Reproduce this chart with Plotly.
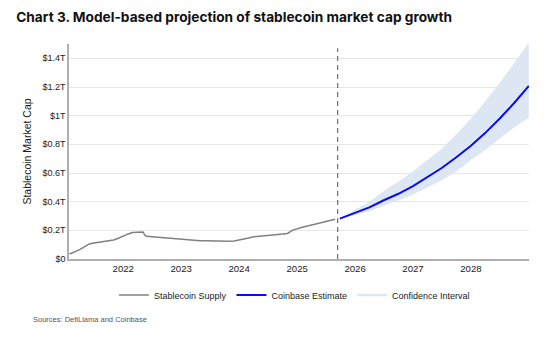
import plotly.graph_objects as go

# Historical stablecoin supply (USD trillions)
hist_dates = ["2021-01-28", "2021-03-01", "2021-04-01", "2021-05-01", "2021-06-01", "2021-07-01",
              "2021-08-01", "2021-09-01", "2021-10-01", "2021-11-01", "2021-12-01", "2022-01-01",
              "2022-02-01", "2022-03-01", "2022-04-01", "2022-05-05", "2022-05-20", "2022-06-01",
              "2022-07-01", "2022-08-01", "2022-09-01", "2022-10-01", "2022-11-01", "2022-12-01",
              "2023-01-01", "2023-02-01", "2023-03-01", "2023-04-01", "2023-05-01", "2023-06-01",
              "2023-07-01", "2023-08-01", "2023-09-01", "2023-10-01", "2023-11-01", "2023-12-01",
              "2024-01-01", "2024-02-01", "2024-03-01", "2024-04-01", "2024-05-01", "2024-06-01",
              "2024-07-01", "2024-08-01", "2024-09-01", "2024-10-01", "2024-11-01", "2024-12-01",
              "2025-01-01", "2025-02-01", "2025-03-01", "2025-04-01", "2025-05-01", "2025-06-01",
              "2025-07-01", "2025-08-01", "2025-08-28"]
hist_values = [0.035, 0.048, 0.065, 0.085, 0.105, 0.112,
               0.117, 0.122, 0.127, 0.133, 0.145, 0.162,
               0.175, 0.185, 0.189, 0.189, 0.162, 0.158,
               0.155, 0.152, 0.150, 0.147, 0.143, 0.138,
               0.135, 0.133, 0.131, 0.129, 0.128, 0.127,
               0.126, 0.124, 0.123, 0.122, 0.123, 0.126,
               0.131, 0.137, 0.146, 0.155, 0.159, 0.162,
               0.165, 0.168, 0.171, 0.174, 0.178, 0.200,
               0.213, 0.222, 0.229, 0.237, 0.244, 0.251,
               0.259, 0.268, 0.277]

# Projection (USD trillions)
proj_dates = ["2025-09-27", "2026-01-01", "2026-04-01", "2026-07-01", "2026-10-01", "2027-01-01",
              "2027-04-01", "2027-07-01", "2027-10-01", "2028-01-01", "2028-04-01", "2028-07-01",
              "2028-10-01", "2028-12-31"]
proj_center = [0.282, 0.320, 0.360, 0.410, 0.455, 0.508,
               0.570, 0.635, 0.710, 0.790, 0.880, 0.980,
               1.090, 1.207]
proj_upper = [0.284, 0.345, 0.400, 0.475, 0.540, 0.613,
              0.690, 0.770, 0.870, 0.980, 1.100, 1.230,
              1.370, 1.510]
proj_lower = [0.280, 0.305, 0.335, 0.375, 0.410, 0.450,
              0.500, 0.550, 0.610, 0.690, 0.760, 0.840,
              0.920, 0.986]

cutoff_date = "2025-09-13"

x_tickvals = ["2022-01-01", "2023-01-01", "2024-01-01", "2025-01-01", "2026-01-01", "2027-01-01", "2028-01-01"]
x_ticktext = ["2022", "2023", "2024", "2025", "2026", "2027", "2028"]
y_tickvals = [0, 0.2, 0.4, 0.6, 0.8, 1.0, 1.2, 1.4]
y_ticktext = ["$0", "$0.2T", "$0.4T", "$0.6T", "$0.8T", "$1T", "$1.2T", "$1.4T"]

BAND = "#dde7f3"
BLUE = "#0a0af0"
GRAY = "#808080"
SANS = "Liberation Sans, Arial, sans-serif"

fig = go.Figure()
fig.add_trace(go.Scatter(x=proj_dates, y=proj_lower, mode="lines", line=dict(width=0, color=BAND),
                         showlegend=False, hoverinfo="skip"))
fig.add_trace(go.Scatter(x=proj_dates, y=proj_upper, mode="lines", line=dict(width=0, color=BAND),
                         fill="tonexty", fillcolor=BAND, showlegend=False, hoverinfo="skip"))
fig.add_trace(go.Scatter(x=hist_dates, y=hist_values, mode="lines", name="Stablecoin Supply",
                         line=dict(color=GRAY, width=1.5)))
fig.add_trace(go.Scatter(x=proj_dates, y=proj_center, mode="lines", name="Coinbase Estimate",
                         line=dict(color=BLUE, width=2)))
fig.add_trace(go.Scatter(x=[None], y=[None], mode="lines", name="Confidence Interval",
                         line=dict(color=BAND, width=2.5)))

fig.add_shape(type="line", xref="x", yref="paper", x0=cutoff_date, x1=cutoff_date, y0=0, y1=0.98,
              line=dict(color="#707070", width=1.2, dash="5px,4px"))

fig.update_layout(
    width=559, height=340,
    margin=dict(l=69, r=30, t=44, b=81),
    paper_bgcolor="white", plot_bgcolor="white",
    font=dict(family=SANS, color="#222222", size=10),
    title=dict(text="<b>Chart 3. Model-based projection of stablecoin market cap growth</b>",
               x=0.029, xanchor="left", y=0.95, yanchor="middle",
               font=dict(family="Inter, Roboto, sans-serif", size=13.7, color="#111111")),
    legend=dict(orientation="h", x=0.49, xanchor="center", y=-0.1, yanchor="top",
                traceorder="normal",
                font=dict(family=SANS, size=9, color="#1a1a1a"), itemwidth=30, tracegroupgap=0),
    showlegend=True,
)
fig.update_xaxes(range=["2021-01-24", "2029-01-01"], tickvals=x_tickvals, ticktext=x_ticktext,
                 showgrid=False, showline=True, linecolor="#b0b0b0", linewidth=1.5,
                 ticks="", tickfont=dict(family=SANS, size=9.6, color="#1a1a1a"), zeroline=False)
fig.update_yaxes(range=[0, 1.5], tickvals=y_tickvals, ticktext=y_ticktext,
                 showgrid=True, gridcolor="#e6e6e6", gridwidth=1,
                 showline=True, linecolor="#b0b0b0", linewidth=1.5, zeroline=False,
                 ticks="", ticklabelstandoff=0, tickfont=dict(family=SANS, size=9, color="#1a1a1a"),
                 title=dict(text="Stablecoin Market Cap", font=dict(family=SANS, size=10.5, color="#1a1a1a"),
                            standoff=9))

fig.add_annotation(text="Sources: DefiLlama and Coinbase", xref="paper", yref="paper",
                   x=-0.083, xanchor="left", y=-0.25, yanchor="top", showarrow=False,
                   font=dict(size=7.5, color="#555555", family=SANS))

fig.write_html("out.html")
